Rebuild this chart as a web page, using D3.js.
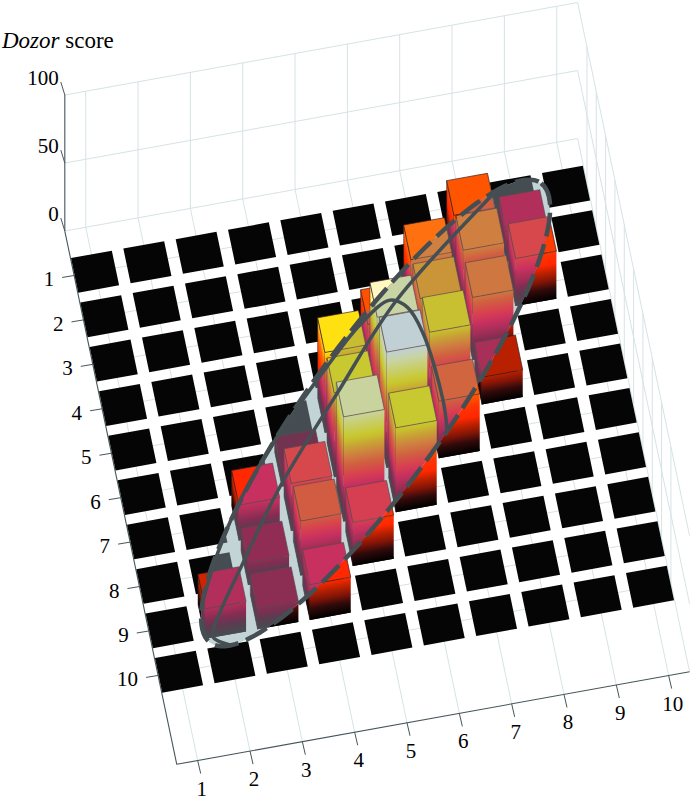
<!DOCTYPE html>
<html>
<head>
<meta charset="utf-8">
<script src="https://cdn.jsdelivr.net/npm/d3@7"></script>
<style>
  body { margin: 0; background: #fff; }
  text { font-family: "Liberation Serif", serif; fill: #000; }
</style>
</head>
<body>
<div id="vis"></div>
<script>
// set constants
const FRAME_WIDTH = 692;
const FRAME_HEIGHT = 798;

// data
const columns = [1, 2, 3, 4, 5, 6, 7, 8, 9, 10];
const rows = [1, 2, 3, 4, 5, 6, 7, 8, 9, 10];
const scoreTicks = [0, 50, 100];
const barCol = [2, 3, 3, 3, 4, 4, 4, 4, 5, 5, 5, 5, 6, 6, 6, 6, 7, 7, 7, 7, 8, 8, 8, 8, 9, 9];
const barRow = [9, 7, 8, 9, 6, 7, 8, 9, 5, 6, 7, 8, 4, 5, 6, 7, 3, 4, 5, 6, 2, 3, 4, 5, 2, 3];
const barScore = [22, 26, 16, 15, 11, 35, 40, 26, 59, 62, 77, 32, 40, 78, 85, 62, 48, 52, 60, 42, 41, 48, 46, 20, 22, 35];

// colour against score, plain and under the ellipse
const colourScores = [0, 8, 14, 20, 26, 33, 41, 48, 54, 59, 62, 78, 85, 100];
const plainColours = ["#000000", "#300a0a", "#801408", "#b82000", "#ff2800", "#ff3300", "#ff5500", "#ff7010", "#ffb010", "#ffe010", "#ffe820", "#fff8c0", "#fffde8", "#ffffff"];
const ellipseColours = ["#454d52", "#5e3a50", "#862c52", "#a82f58", "#c83060", "#d84050", "#d06040", "#cf8040", "#c8a035", "#c8bc30", "#c8c830", "#c8d4a4", "#c0d0d4", "#c2d6d8"];

// annotation curves, in grid units (column, row)
const ellipseCentre = [5.62, 5.16];
const ellipseMajor = [3.935, -4.333];
const ellipseMinor = [0.86, 1.11];
const midlineCol = [2.05, 1.76, 1.93, 2.60, 3.57, 4.99, 6.45, 8.72];
const midlineRow = [9.62, 9.38, 8.97, 7.89, 6.39, 4.58, 2.79, 0.80];
const arcCol = [1.72, 2.18, 2.79, 3.71, 4.90, 5.67, 6.32, 6.61, 6.80, 6.91, 6.87];
const arcRow = [8.54, 7.56, 6.52, 5.30, 3.97, 3.19, 2.77, 2.99, 3.61, 5.14, 5.81];

// fixed view: the plot is a parallel projection, so these scales are enough
const COL_X = d3.scaleLinear().domain([0, 10]).range([0, 523.3]);
const COL_Y = d3.scaleLinear().domain([0, 10]).range([0, -94.4]);
const ROW_X = d3.scaleLinear().domain([0, 10]).range([0, 93.3]);
const ROW_Y = d3.scaleLinear().domain([0, 10]).range([0, 444.4]);
const Z_Y = d3.scaleLinear().domain([0, 100]).range([0, -136]);
const ORIGIN = {x: 33.4, y: 236.7};
const CELL = 0.39;
const COL_MIN = 0.6, COL_MAX = 10.4, ROW_MIN = 0, ROW_MAX = 12;

function project(c, r, z) {
  return [ORIGIN.x + COL_X(c) + ROW_X(r), ORIGIN.y + COL_Y(c) + ROW_Y(r) + Z_Y(z || 0)];
}

const plainScale = d3.scaleLinear().domain(colourScores).range(plainColours);
const ellipseScale = d3.scaleLinear().domain(colourScores).range(ellipseColours);

const FRAME = d3.select("#vis").append("svg")
  .attr("width", FRAME_WIDTH)
  .attr("height", FRAME_HEIGHT)
  .style("display", "block");
const defs = FRAME.append("defs");
const line = d3.line();

function segment(g, a, b, colour, width) {
  g.append("path").attr("d", line([a, b])).attr("stroke", colour)
    .attr("stroke-width", width).attr("fill", "none");
}

// grid on floor and walls
const gridG = FRAME.append("g");
const GRID = "#d6e3e5";
columns.forEach((c) => {
  segment(gridG, project(c, ROW_MIN, 100), project(c, ROW_MIN, 0), GRID, 1);
  segment(gridG, project(c, ROW_MIN, 0), project(c, ROW_MAX, 0), GRID, 1);
});
rows.forEach((r) => {
  segment(gridG, project(COL_MIN, r, 0), project(COL_MAX, r, 0), GRID, 1);
  segment(gridG, project(COL_MAX, r, 0), project(COL_MAX, r, 100), GRID, 1);
});
scoreTicks.forEach((z) => {
  segment(gridG, project(COL_MIN, ROW_MIN, z), project(COL_MAX, ROW_MIN, z), GRID, 1);
  segment(gridG, project(COL_MAX, ROW_MIN, z), project(COL_MAX, ROW_MAX, z), GRID, 1);
});

// axes
const axisG = FRAME.append("g");
const AXIS = "#46565a";
segment(axisG, project(COL_MIN, ROW_MIN, 0), project(COL_MIN, ROW_MAX, 0), AXIS, 1.1);
segment(axisG, project(COL_MIN, ROW_MAX, 0), project(COL_MAX, ROW_MAX, 0), AXIS, 1.1);
segment(axisG, project(COL_MIN, ROW_MIN, 0), project(COL_MIN, ROW_MIN, 100), AXIS, 1.1);

columns.forEach((c) => {
  const p = project(c, ROW_MAX, 0);
  segment(axisG, p, [p[0] + 3, p[1] + 13], AXIS, 1);
  axisG.append("text").attr("x", p[0] + 4).attr("y", p[1] + 35)
    .attr("text-anchor", "middle").attr("font-size", 21).text(c);
});
rows.forEach((r) => {
  const p = project(COL_MIN, r, 0);
  segment(axisG, p, [p[0] - 12, p[1] + 2], AXIS, 1);
  axisG.append("text").attr("x", p[0] - 20).attr("y", p[1] + 11)
    .attr("text-anchor", "end").attr("font-size", 21).text(r);
});
scoreTicks.forEach((z) => {
  const p = project(COL_MIN, ROW_MIN, z);
  segment(axisG, p, [p[0] - 4, p[1] - 13], AXIS, 1);
  axisG.append("text").attr("x", p[0] - 6).attr("y", p[1] - 10)
    .attr("text-anchor", "end").attr("font-size", 21).text(z);
});

const title = FRAME.append("text").attr("x", 2).attr("y", 48).attr("font-size", 23);
title.append("tspan").attr("font-style", "italic").text("Dozor");
title.append("tspan").text(" score");

// empty cells and bars, drawn once plain and once under the ellipse
function cellPath(c, r, z) {
  return [project(c - CELL, r - CELL, z), project(c + CELL, r - CELL, z),
          project(c + CELL, r + CELL, z), project(c - CELL, r + CELL, z)];
}

// gradient whose colour bands run parallel to the face's top edge
function faceGradient(id, colour, score, a, b) {
  const ex = b[0] - a[0], ey = b[1] - a[1];
  const len2 = ex * ex + ey * ey;
  const h = Z_Y(0) - Z_Y(score);
  // part of the drop from top to floor that is square to the edge
  const dx = h * (0 - ex * ey / len2), dy = h * (1 - ey * ey / len2);
  const grad = defs.append("linearGradient").attr("id", id)
    .attr("gradientUnits", "userSpaceOnUse")
    .attr("x1", a[0]).attr("y1", a[1])
    .attr("x2", a[0] + dx).attr("y2", a[1] + dy);
  const stopScores = [score].concat(colourScores.filter((s) => s < score).reverse());
  stopScores.forEach((s) => {
    grad.append("stop").attr("offset", 1 - s / score).attr("stop-color", colour(s));
  });
  return "url(#" + id + ")";
}

function drawBars(g, colour, cellColour, edge, key) {
  const cellG = g.append("g");
  columns.forEach((c) => {
    rows.forEach((r) => {
      cellG.append("path").attr("d", line(cellPath(c, r, 0)) + "Z").attr("fill", cellColour);
    });
  });

  const order = d3.range(barCol.length)
    .sort((i, j) => (ROW_Y(barRow[i]) + COL_Y(barCol[i])) - (ROW_Y(barRow[j]) + COL_Y(barCol[j])));

  order.forEach((i) => {
    const c = barCol[i], r = barRow[i], s = barScore[i];
    const top = cellPath(c, r, s), floor = cellPath(c, r, 0);
    // left face
    g.append("path").attr("d", line([top[0], top[3], floor[3], floor[0]]) + "Z")
      .attr("fill", faceGradient(key + "L" + i, colour, s, top[0], top[3]))
      .attr("stroke", edge).attr("stroke-width", 0.5);
    // front face
    g.append("path").attr("d", line([top[3], top[2], floor[2], floor[3]]) + "Z")
      .attr("fill", faceGradient(key + "F" + i, colour, s, top[3], top[2]))
      .attr("stroke", "none");
    // lid
    g.append("path").attr("d", line(top) + "Z")
      .attr("fill", colour(s)).attr("stroke", edge).attr("stroke-width", 0.7);
  });
}

const plainG = FRAME.append("g");
drawBars(plainG, plainScale, "#050505", "#3a2020", "p");

const ANGLES = d3.range(0, 360, 3).map((a) => a * Math.PI / 180);
const ellipsePts = ANGLES.map((t) => project(
  ellipseCentre[0] + Math.cos(t) * ellipseMajor[0] + Math.sin(t) * ellipseMinor[0],
  ellipseCentre[1] + Math.cos(t) * ellipseMajor[1] + Math.sin(t) * ellipseMinor[1], 0));
const ellipsePath = line(ellipsePts) + "Z";

defs.append("clipPath").attr("id", "inEllipse").append("path").attr("d", ellipsePath);
const insideG = FRAME.append("g").attr("clip-path", "url(#inEllipse)");
insideG.append("rect").attr("width", FRAME_WIDTH).attr("height", FRAME_HEIGHT).attr("fill", "#c2d4d6");
drawBars(insideG, ellipseScale, "#454d52", "#5a4a50", "e");

// ellipse and its two solid curves
const INK = "#454f53";
const smooth = d3.line().curve(d3.curveCatmullRom);
FRAME.append("path").attr("d", ellipsePath).attr("fill", "none").attr("stroke", INK)
  .attr("stroke-width", 4.5).attr("stroke-dasharray", "24 8");
FRAME.append("path").attr("d", smooth(midlineCol.map((c, i) => project(c, midlineRow[i], 0))))
  .attr("fill", "none").attr("stroke", INK).attr("stroke-width", 3.5);
FRAME.append("path").attr("d", smooth(arcCol.map((c, i) => project(c, arcRow[i], 0))))
  .attr("fill", "none").attr("stroke", INK).attr("stroke-width", 3.5);
</script>
</body>
</html>
